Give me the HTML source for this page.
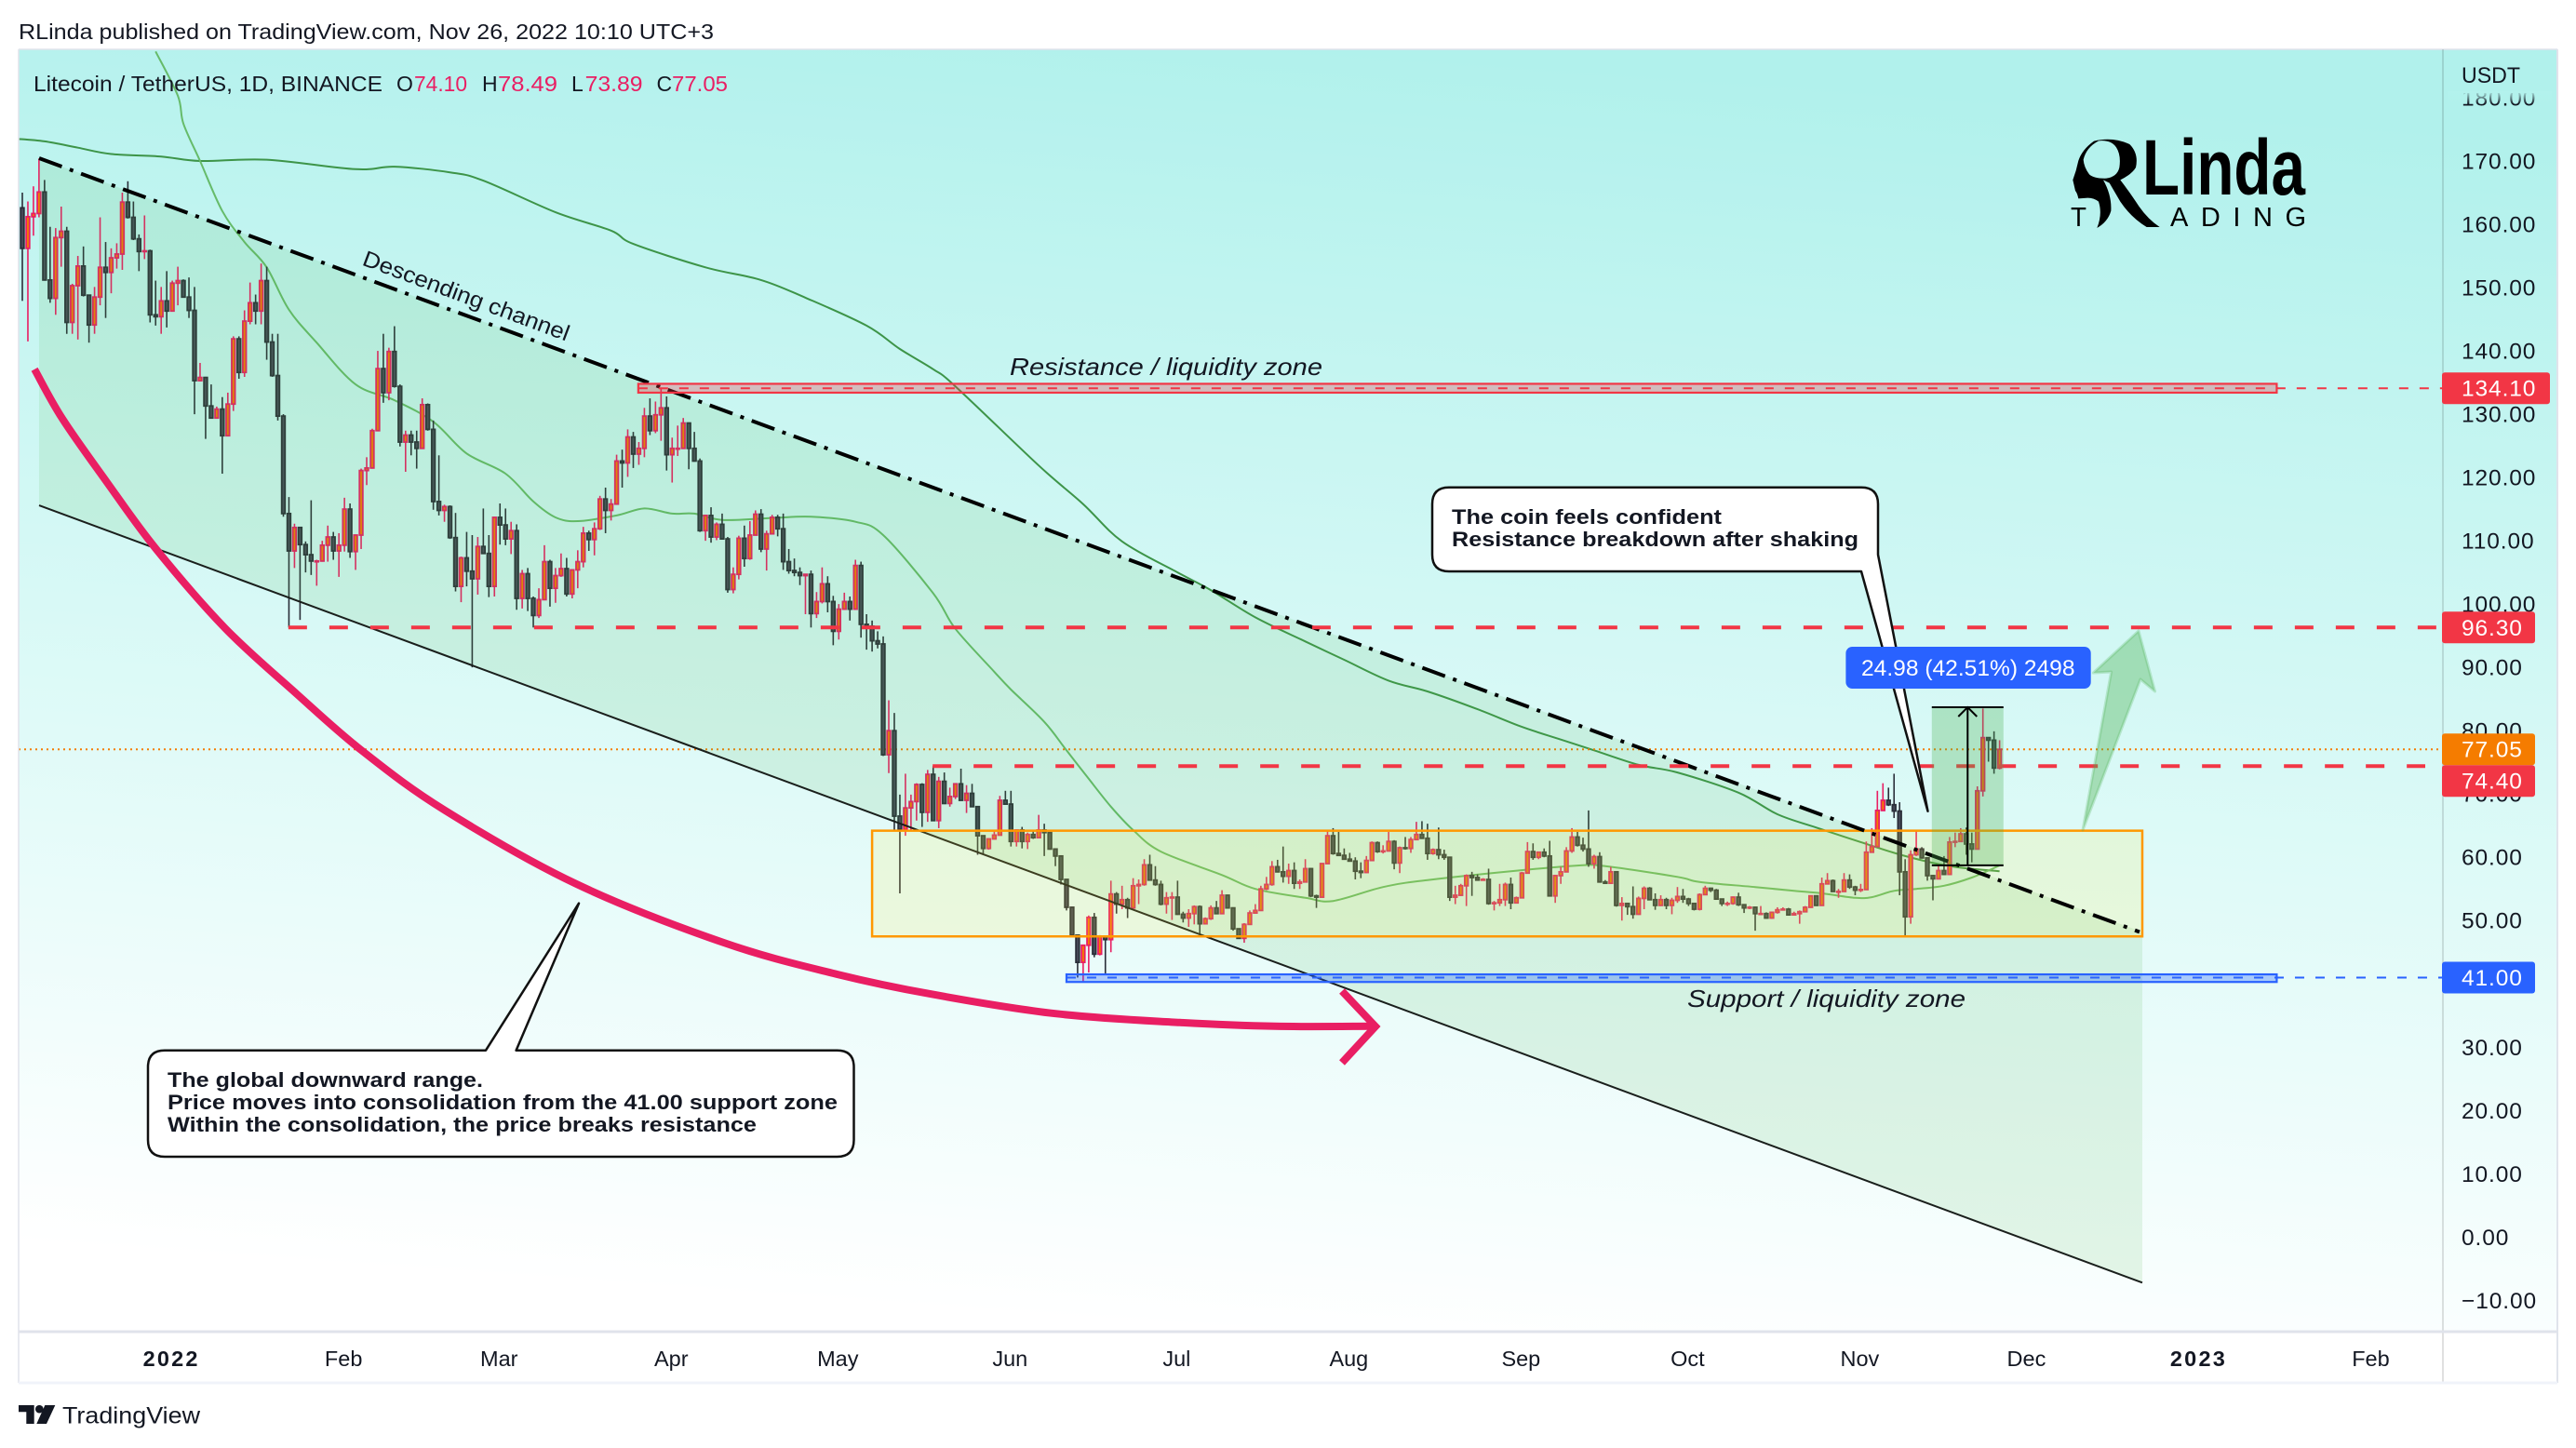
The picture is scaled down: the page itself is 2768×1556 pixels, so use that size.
<!DOCTYPE html>
<html lang="en">
<head>
<meta charset="utf-8">
<title>Litecoin / TetherUS chart</title>
<style>
html,body{margin:0;padding:0;background:#fff;}
svg{display:block;font-family:"Liberation Sans",sans-serif;}
text{fill:#131722;}
</style>
</head>
<body>
<svg id="chart" xmlns="http://www.w3.org/2000/svg" width="2768" height="1556" viewBox="0 0 2768 1556">
  <defs>
    <linearGradient id="bgGrad" gradientUnits="userSpaceOnUse" x1="1430" y1="53" x2="1330" y2="1431">
      <stop offset="0" stop-color="#b1f1ec"/>
      <stop offset="0.5" stop-color="#d8f9f6"/>
      <stop offset="1" stop-color="#ffffff"/>
    </linearGradient>
    <linearGradient id="tickFade" x1="0" y1="0" x2="0" y2="1">
      <stop offset="0" stop-color="#b3f2ed" stop-opacity="1"/>
      <stop offset="1" stop-color="#b3f2ed" stop-opacity="0"/>
    </linearGradient>
    <clipPath id="paneClip"><rect x="20" y="53" width="2605" height="1378"/></clipPath>
    <clipPath id="axisClip"><rect x="2628" y="100" width="120" height="1331"/></clipPath>
  </defs>

  <rect x="0" y="0" width="2768" height="1556" fill="#ffffff"/>
  <text x="20" y="42" font-size="23" textLength="747" lengthAdjust="spacingAndGlyphs">RLinda published on TradingView.com, Nov 26, 2022 10:10 UTC+3</text>

  <rect x="20" y="53" width="2728" height="1378" fill="url(#bgGrad)"/>

  <g id="pane" clip-path="url(#paneClip)">
    <g id="maLayer"></g>
    <line id="lastLine" stroke="#f57c00" stroke-width="2" stroke-dasharray="2 4"/>
    <g id="candles"></g>
    <polygon id="channelFill" fill="rgb(76,175,80)" fill-opacity="0.13"/>
    <line id="channelLower" stroke="#1a1f1c" stroke-width="2"/>
    <rect id="consolidation" fill="rgb(255,235,59)" fill-opacity="0.15" stroke="#ff9800" stroke-width="2.5"/>
    <line id="channelUpper" stroke="#000" stroke-width="4" stroke-dasharray="26 9 4 9"/>
    <rect id="resZone" fill="#f23645" fill-opacity="0.3" stroke="#f23645" stroke-width="2.2"/>
    <line id="resLine" stroke="#f23645" stroke-width="2" stroke-dasharray="10 12"/>
    <rect id="supZone" fill="#2962ff" fill-opacity="0.32" stroke="#2962ff" stroke-width="2.2"/>
    <line id="supLine" stroke="#2962ff" stroke-width="2" stroke-dasharray="10 12"/>
    <line id="level96" stroke="#f23645" stroke-width="4" stroke-dasharray="20 24"/>
    <line id="level74" stroke="#f23645" stroke-width="4" stroke-dasharray="20 24"/>

    <rect id="rangeBox" fill="rgb(76,175,80)" fill-opacity="0.3"/>
    <line id="rangeTop" stroke="#000" stroke-width="2"/>
    <line id="rangeBottom" stroke="#000" stroke-width="2"/>
    <line id="rangeStem" stroke="#000" stroke-width="2"/>
    <polyline id="rangeHead" fill="none" stroke="#000" stroke-width="2"/>

    <path d="M2238 892 L2268.6 722 L2249.4 723 L2298 678 L2315.6 743 L2300 730 Z" fill="#4caf50" fill-opacity="0.38" stroke="#4caf50" stroke-opacity="0.25" stroke-width="3" stroke-linejoin="round"/>

    <path id="downCurve" fill="none" stroke="#e91e63" stroke-width="8" stroke-linejoin="round"/>
    <polyline points="1442,1065 1478,1103 1442,1142" fill="none" stroke="#e91e63" stroke-width="8" stroke-linejoin="miter"/>

    <text transform="translate(501,318) rotate(20.5)" y="8" font-size="24" text-anchor="middle" textLength="235" lengthAdjust="spacingAndGlyphs">Descending channel</text>
    <text x="1085" y="403" font-size="26" font-style="italic" textLength="336" lengthAdjust="spacingAndGlyphs">Resistance / liquidity zone</text>
    <text x="1813" y="1082" font-size="26" font-style="italic" textLength="299" lengthAdjust="spacingAndGlyphs">Support / liquidity zone</text>

    <path d="M177 1128.7 H522 L622 970.7 L554.6 1128.7 H899.5 Q917.5 1128.7 917.5 1146.7 V1225 Q917.5 1243 899.5 1243 H177 Q159 1243 159 1225 V1146.7 Q159 1128.7 177 1128.7 Z" fill="#ffffff" stroke="#111" stroke-width="2.5" stroke-linejoin="round"/>
    <g font-size="22" font-weight="700">
      <text x="180" y="1168" textLength="339" lengthAdjust="spacingAndGlyphs">The global downward range.</text>
      <text x="180" y="1192" textLength="720" lengthAdjust="spacingAndGlyphs">Price moves into consolidation from the 41.00 support zone</text>
      <text x="180" y="1216" textLength="633" lengthAdjust="spacingAndGlyphs">Within the consolidation, the price breaks resistance</text>
    </g>

    <path d="M1557 523.7 H2000 Q2018 523.7 2018 541.7 V596 L2071.5 871.7 L2000 614 H1557 Q1539 614 1539 596 V541.7 Q1539 523.7 1557 523.7 Z" fill="#ffffff" stroke="#111" stroke-width="2.5" stroke-linejoin="round"/>
    <g font-size="22" font-weight="700">
      <text x="1560" y="563" textLength="290" lengthAdjust="spacingAndGlyphs">The coin feels confident</text>
      <text x="1560" y="587" textLength="437" lengthAdjust="spacingAndGlyphs">Resistance breakdown after shaking</text>
    </g>

    <rect x="1983.4" y="695" width="263.3" height="45" rx="7" fill="#2962ff"/>
    <text x="2000" y="726" font-size="24" textLength="229.5" lengthAdjust="spacingAndGlyphs" style="fill:#fff">24.98 (42.51%) 2498</text>

    <g>
      <path transform="translate(2200,130) scale(0.33333)" fill-rule="evenodd" fill="#000" d="M92 160 L100 128 Q112 92 150 65 Q210 50 265 75 Q295 105 285 150 Q272 172 235 190 Q262 225 295 275 Q325 318 362 342 L320 342 Q270 312 235 260 L200 200 L180 190 Q208 240 205 290 Q195 325 160 345 Q178 300 165 260 Q150 248 130 248 L100 250 Q96 232 90 225 L82 190 Z M116 125 Q118 150 135 172 Q150 186 190 185 Q225 180 232 150 Q238 110 222 85 Q205 60 165 64 Q125 85 116 125 Z"/>
      <text x="2302" y="209" font-size="84" font-weight="700" textLength="175" lengthAdjust="spacingAndGlyphs" style="fill:#000">Linda</text>
      <text x="2225" y="243" font-size="29" textLength="17" lengthAdjust="spacingAndGlyphs" style="fill:#000">T</text>
      <text x="2332" y="243" font-size="29" textLength="146" style="fill:#000">ADING</text>
    </g>
  </g>

  <text x="36" y="98" font-size="23" textLength="375" lengthAdjust="spacingAndGlyphs">Litecoin / TetherUS, 1D, BINANCE</text>
  <text x="426" y="98" font-size="23">O</text>
  <text x="445" y="98" font-size="23" textLength="57" lengthAdjust="spacingAndGlyphs" style="fill:#e91e63">74.10</text>
  <text x="518" y="98" font-size="23">H</text>
  <text x="535" y="98" font-size="23" textLength="64" lengthAdjust="spacingAndGlyphs" style="fill:#e91e63">78.49</text>
  <text x="614" y="98" font-size="23">L</text>
  <text x="628.6" y="98" font-size="23" textLength="62" lengthAdjust="spacingAndGlyphs" style="fill:#e91e63">73.89</text>
  <text x="705.5" y="98" font-size="23">C</text>
  <text x="722" y="98" font-size="23" textLength="60" lengthAdjust="spacingAndGlyphs" style="fill:#e91e63">77.05</text>

  <line x1="20" y1="53" x2="2748" y2="53" stroke="#e0e3eb" stroke-width="1.5"/>
  <line x1="20" y1="53" x2="20" y2="1486" stroke="#e0e3eb" stroke-width="1.5"/>
  <line x1="2748" y1="53" x2="2748" y2="1486" stroke="#e0e3eb" stroke-width="2"/>
  <line x1="2625" y1="53" x2="2625" y2="1486" stroke="#000" stroke-opacity="0.12" stroke-width="2"/>
  <line x1="20" y1="1431" x2="2748" y2="1431" stroke="#e0e3eb" stroke-width="3"/>
  <line x1="20" y1="1486" x2="2748" y2="1486" stroke="#f0f3fa" stroke-width="3"/>

  <g id="priceTicksGroup" clip-path="url(#axisClip)" font-size="24.5" letter-spacing="0.9"></g>
  <rect x="2630" y="98" width="112" height="14" fill="url(#tickFade)"/>
  <text x="2645" y="89" font-size="24" textLength="63" lengthAdjust="spacingAndGlyphs">USDT</text>
  <g id="priceTags" font-size="24.5" letter-spacing="0.9"></g>
  <g id="timeTicksGroup" font-size="23.5" text-anchor="middle"></g>

  <g>
    <path d="M20 1510 H36.7 V1530 H28.3 V1517.3 H20 Z" fill="#131722"/>
    <circle cx="42.3" cy="1514.2" r="4.3" fill="#131722"/>
    <path d="M48.3 1510 H59.3 L50 1530 H39.3 Z" fill="#131722"/>
    <text x="67" y="1529.5" font-size="25" textLength="148" lengthAdjust="spacingAndGlyphs">TradingView</text>
  </g>

<script>
// ===== Candle data: one entry per daily bar, starting 5 Dec 2021 =====
const firstOpen = 162.6;
const closes = [
156.2,161.2,161.7,165.1,151.2,148.3,157.9,158.9,144.5,150.3,
153.4,148.8,144.1,148.5,153.2,152.4,154.7,155.3,163.5,161.1,
157.7,155.7,155.8,145.7,145.4,147.9,146.3,150.7,151.1,148.5,
146.4,135.3,135.8,131.3,129.4,130.8,126.6,131.6,141.9,136.6,
144.7,147.6,146.3,151.1,141.4,136.1,129.7,114.3,108.4,112.1,
109.4,107.8,106.8,106.8,109.3,110.6,108.4,109.3,115,108.3,
110.9,121.1,121.5,127.4,137.2,133.4,139.9,134.4,125.6,126.7,
125.6,124.6,131.5,127.6,116.2,114.8,115.4,110.5,102.8,107.3,
105.2,104,109.1,108,102.8,113.7,112.5,110.3,111.6,100.9,
104.8,100.9,98.2,100.7,106.7,102.5,104.5,105.6,101.6,105.4,
106.7,111.2,110.2,111.9,116.6,114.8,115.8,122.6,122.3,126.4,
123.7,124.6,129.7,127.4,129.9,131,123.6,124.6,124.6,128.6,
124.6,122.6,111.6,114,110.6,112.6,110.3,102.3,104.7,110.4,
107.2,110.9,114.2,108.7,111.1,113.7,111.9,106.7,105.3,105,
104.5,104.7,98.5,100.4,103.2,100.4,95.7,99.2,100.4,99.2,
106.1,96.8,96.5,94.2,93.7,76.2,80,66.5,64.4,67.8,
68.8,71.5,67.1,73.1,65.8,72,68.5,69.6,71.6,69,
70.1,68,63.4,61.4,62.9,63.5,69,68.4,62.5,64.3,
62.5,63.6,63.1,64.3,63.9,61.3,60.2,56.5,52.1,47.7,
43.4,46.1,50.5,44.7,47.5,47,54.2,52.6,53.3,52,
55.5,55.7,58.8,56.4,55.7,52.6,53.6,53.7,51,50.4,
51.1,52.2,49.5,50.3,52,51.1,54,52,48.7,47.2,
49.4,51.2,51.6,55,55.7,58.5,57.7,57,57.9,55.9,
56.1,58.2,53.9,53.7,59,63.4,60.6,60.3,59.7,59.4,
57.8,57.6,59.5,62.3,60.9,61,62.5,59.1,61.5,61.4,
62.8,63.6,63,60.6,61.2,60.4,60,53.7,54,55.5,
57.1,56.8,56.4,56.5,52.7,52.8,53.3,55.7,52.8,53.6,
57.5,60.9,60,60.8,60.2,53.9,57.1,57.7,61,63.2,
61.9,61.3,59,60.1,56.1,55.9,57.7,52.4,52.7,52.2,
51,53.5,55.1,53.3,52.4,53.3,52.4,53.2,53.8,53.4,
52.7,51.8,54.1,55.1,54.8,53.4,52.7,52.7,53.7,52.5,
52,52.1,51.1,51.1,50.4,51.3,51.7,51.8,50.9,51.1,
51.4,52.1,53.9,52.4,55.8,56.3,54.6,54.6,56.4,55.3,
54.8,54.9,60.8,61.7,67.4,69,68.3,67.3,57.7,50.6,
60.4,61.3,59.9,57.1,56.6,57.9,57.3,62.4,62.5,63.7,
62.1,61.3,70.5,78.9,78.5,74.1,77.05
];
const highs = [
165,163.6,166,170.4,167,159.6,159.4,162.8,159.6,150.6,
155,156.5,148.9,150.1,161.1,157.2,156.2,157,165,166.8,
163.6,158.4,161.4,156,151.1,150.1,152.6,151.1,153.3,151.3,
151.6,150.1,138.1,135.9,134.7,131.2,132.7,133.4,142.3,142.3,
146.4,150.8,148.9,153.8,153.3,142.7,142.7,130,116.9,112.7,
112.2,109.9,116.4,107,110,112.4,111.4,111.2,116.8,115.9,
111,121.4,123.2,127.7,140,142.7,140.5,143.9,134.7,127.4,
127.4,127.4,132.5,131.7,129,123.5,115.7,115.6,114.4,107.5,
111.4,110.9,110.6,115.1,110.9,113.8,115.9,115.1,113,112.6,
105.4,105.7,101.2,102.5,109.3,107,105.7,108,107.3,105.5,
108.5,112.2,111.6,112.9,117.1,118.4,116.6,123.6,124.4,127.6,
127.2,125.6,131,132.5,132,134.2,132.8,126.3,128.2,129.4,
128.7,127.2,123,114.1,115.3,112.9,114.3,110.6,105.8,110.8,
112.4,113.1,114.8,115,111.6,114.1,114.1,114.3,108.7,107.2,
105.8,104.8,105.3,101.9,105.8,104.4,101.3,100,101.8,101.2,
107,106.7,98.4,97.4,95.7,94.9,84.8,82.8,69.9,73.2,
69.9,71.7,71.7,73.8,74.4,72.7,73.4,71,71.7,74,
71.4,71.6,68.1,63.4,63,64.2,69.7,70.5,70.5,64.4,
64.8,63.9,64.1,66.7,65.3,63.9,61.4,60.2,56.5,52.1,
47.8,46.2,50.8,51.2,47.7,47.5,56.3,54.5,55.5,53.6,
56.7,56.5,59.7,60.4,58.6,56.3,54.5,54.5,56.3,51.4,
51.8,52.4,52.4,50.5,52.4,53.1,54.8,54.1,52.1,48.7,
49.6,51.6,52.6,55.5,56.9,59.4,59.6,61.7,59,59.2,
56.5,59.7,58.3,54.1,59.1,64.2,64.6,64,61.4,60.7,
60,59.2,60.2,62.5,62.5,61.9,64,62.7,61.7,63.2,
63.2,65.6,65.7,65.3,61.4,64.7,61.2,60.1,55.5,55.8,
57.3,57.7,57.3,56.7,58.2,53.1,55.8,56,56.8,53.8,
57.7,62.4,62.2,60.9,61.4,62.6,57.2,58.5,61.6,64.6,
64,63.1,67.4,60.4,60.8,56.4,58.5,57.8,53.7,52.8,
55.4,53.8,55.4,55.3,54.3,54,53.6,53.6,55.3,55,
53.6,52.8,54.3,55.5,55.2,55,53.4,53,53.8,54.4,
52.6,52.3,52.1,52.3,51.3,51.4,52.1,52.1,52,51.4,
51.6,52.3,54,54,56.8,57.5,56.5,55,57.5,57.3,
55.5,55.8,62.5,64.6,70.5,71.7,71,73.2,68.7,59.7,
61.1,64.3,61.6,59.9,57.2,58.9,60.2,63.2,63.9,64.6,
64.7,63.9,71.2,83.5,79,79.9,78.49
];
const lows = [
147.9,141.5,158.2,161.1,151.1,147.6,145.7,153.3,142.7,142.7,
141.8,148.6,141.3,142.7,147.2,145.2,149.1,153,152.8,160.9,
157.5,152.6,154.5,144.5,144,142.7,143.7,146.2,147.2,148.4,
145.2,130,135.2,126.1,129.3,129.3,120.6,126.6,130.5,135.6,
135.9,144.2,144.2,144.2,138.6,135.9,129,113.8,96.3,105.7,
97.5,105,104.6,102.9,106.7,106.7,107,104.3,108.3,107.3,
105.4,108.7,118.8,121.4,127.5,131.8,132.2,134.2,124.9,120.9,
123.5,121.4,124.6,127.4,114.9,114,113,110.3,102,100.3,
102.8,90,101.5,107.9,101.1,101.2,109.4,109.3,107.9,99.1,
99.3,98.9,96.3,97.8,100.7,99.6,100.2,104.3,101.2,100.9,
102.5,105.8,108.4,107.7,111.7,111.2,113.2,115.9,118.4,120.1,
121.5,122,123.2,126.7,127,125.8,121.1,119.2,123.4,124.6,
121.3,122.5,111.4,110,109.7,110.1,110.2,101.8,101.7,103.9,
105.9,107,110.9,108.2,105.3,111.1,110.7,105.4,104.8,104.4,
103,98.4,96.3,97.8,100.1,98.7,93.5,94.4,99.1,97.4,
99.1,94.7,92.8,92.5,93,76,73.3,64.3,54.3,63.4,
64.3,65.8,64.8,65.6,65.7,64.6,68.4,68,69.2,68.9,
67,67.9,60.4,60.6,61.2,62.8,63.5,68.3,61.7,61.7,
61.4,61.3,62.9,63,60.2,61.2,58.6,55.7,51.6,47.4,
41,40.3,41.8,44.2,44.5,41.5,45,51.1,51.8,50.4,
51.8,52.6,55.5,56.3,55.5,52.4,51.1,50.1,50.9,49.7,
49,49.4,47.8,49.4,50.1,51,51.1,51.9,48.4,47.1,
46.5,49.4,51.1,51.5,54.8,55.5,57.6,56,55.8,55,
55,56,53.7,52,53.6,59,60.4,60.2,59.6,59.3,
56.5,56.7,57.5,59.4,60.7,60.6,60.9,58.1,57.5,61.2,
60.7,62.7,62.9,59.6,60.4,59.7,59.6,53.1,52.6,53.9,
52.3,53.9,56.3,56.3,52.5,51.6,52.3,52.3,51.8,52.8,
53.6,57.5,59.6,59.7,60,53.8,52.8,55.8,57.7,60.7,
61.7,60.9,58.5,58.2,56,55.8,55.8,52.2,50,50.9,
50.3,50.9,51.8,53.2,51.7,52.3,51.8,51,52.8,52.8,
52.3,51.6,51.6,54.1,54.5,53.3,52.3,52.3,52.5,52.3,
51.2,51.8,48.4,50.9,50.3,50.3,51.1,51.6,50.8,50.9,
49.5,51.4,52,52.3,52.4,55.7,54.5,53.6,54.7,55,
54,54.5,54.9,60.8,61.6,67.3,68.1,66.2,54,47.5,
49.5,60.2,59.8,56.3,53.2,56.5,57.2,57.2,61.6,62.5,
60.4,59.2,61.2,69.6,75.1,73.2,73.89
];

// ===== Moving averages (bar number, price) =====
const ma200Bars = [-1,4,10,16,25,32,44,60,67,77,83,96,106,110,123,133,141,152,158,164,168,183,191,198,208,214,222,231,238,246,253,262,270,277,283,291,298,309,316,323,331,339,347,356];
const ma200Values = [173.5,173.1,172.1,171.1,170.7,170,170.2,168.7,169.1,168.2,166.9,161.9,159,156.9,153.2,151.2,148.4,144,140.3,137.1,134.4,121.9,115.8,109.9,105,102.2,97.9,94.1,91.2,87.9,86.2,83.4,80.6,78.6,76.9,74.6,73.4,70.2,66.8,64.7,62.4,60.2,58.6,57.8];
const ma50Bars = [24,28,29,32,36,40,44,48,53,60,67,74,80,87,92,96,100,107,112,117,121,126,135,142,150,155,164,168,175,178,184,188,192,196,200,205,216,222,231,236,245,253,268,280,285,298,302,312,319,324,330,333,337,341,346,351,356];
const ma50Values = [187.3,180.3,175.9,170,162.1,157.2,153.2,146.5,141.3,134.7,132.2,128.8,123.8,120.6,116.2,113.7,113.1,114,115.1,114.3,114.3,113.3,113.6,113.8,113,110.9,101.7,96.1,89.3,86.5,81.4,76.9,72.4,68,64.3,60.9,57.2,55,53.6,53.1,55.3,56.4,57.8,58.7,58.6,56.9,56.1,55.3,54.7,54.3,53.6,53.7,54.7,55,55.5,56.8,58.7];

// ===== Axes =====
const priceTicks = [180,170,160,150,140,130,120,110,100,90,80,70,60,50,40,30,20,10,0,-10];
const timeLabels = ["2022","Feb","Mar","Apr","May","Jun","Jul","Aug","Sep","Oct","Nov","Dec","2023","Feb"];
const timeLabelDays = [0,31,59,90,120,151,181,212,243,273,304,334,365,396];
const timeLabelBold = [true,false,false,false,false,false,false,false,false,false,false,false,true,false];

// ===== Levels and drawing anchors (prices and bar numbers) =====
const lastPrice = 77.05;
const tagValues = [134.10,96.30,77.05,74.40,41.00];
const tagColors = ["#f23645","#f23645","#f57c00","#f23645","#2962ff"];
const channelUpperBars = [3.02,381.2];
const channelUpperPrices = [170.44,48.2];
const channelLowerBars = [3.02,381.7];
const channelLowerPrices = [115.6,-7.2];
const consolidationBars = [153,381.7];
const consolidationPrices = [64.2,47.5];
const resistancePrices = [134.8,133.4];
const supportPrices = [41.5,40.3];
const zoneBars = [110.9,405.9];
const supportBars = [188,405.9];
const level96Start = 47.9;
const level74Start = 163.9;
const rangeBars = [343.8,356.7];
const rangePrices = [83.7,58.72];
const curveBars = [2.2,7.2,15.2,24,36.5,49.4,61.2,76.1,99.7,126.3,146.8,163.5,186,208.4,225.5,243];
const curvePrices = [137.1,129.3,119.3,108.8,96.2,85.8,76.8,67.4,55.8,46.5,41.5,38.4,35.3,33.9,33.3,33.3];

const X0 = 24, STEP = 5.968, FIRST_DAY = -27, Y170 = 173, PX_PER_UNIT = 6.802, AXIS_X = 2625;
function xBar(i){ return X0 + i * STEP; }
function xDay(d){ return xBar(d - FIRST_DAY); }
function yPrice(p){ return Y170 + (170 - p) * PX_PER_UNIT; }

const NS = "http://www.w3.org/2000/svg";
function mk(tag, parent){
  const el = document.createElementNS(NS, tag);
  parent.appendChild(el);
  return el;
}
function setLine(id, x1, y1, x2, y2){
  const l = document.getElementById(id);
  l.setAttribute("x1", x1); l.setAttribute("y1", y1);
  l.setAttribute("x2", x2); l.setAttribute("y2", y2);
}
function setRect(id, x1, x2, y1, y2){
  const r = document.getElementById(id);
  r.setAttribute("x", x1); r.setAttribute("y", y1);
  r.setAttribute("width", x2 - x1); r.setAttribute("height", y2 - y1);
}
// smooth curve through the given points (Catmull-Rom to Bezier)
function smoothPath(bars, vals){
  const p = bars.map((b, i) => [xBar(b), yPrice(vals[i])]);
  let d = "M" + p[0][0].toFixed(1) + " " + p[0][1].toFixed(1);
  for (let i = 0; i < p.length - 1; i++) {
    const a = p[Math.max(i - 1, 0)], b = p[i], c = p[i + 1], e = p[Math.min(i + 2, p.length - 1)];
    const c1x = b[0] + (c[0] - a[0]) / 6, c1y = b[1] + (c[1] - a[1]) / 6;
    const c2x = c[0] - (e[0] - b[0]) / 6, c2y = c[1] - (e[1] - b[1]) / 6;
    d += " C" + c1x.toFixed(1) + " " + c1y.toFixed(1) + " " + c2x.toFixed(1) + " " + c2y.toFixed(1) + " " + c[0].toFixed(1) + " " + c[1].toFixed(1);
  }
  return d;
}

// moving averages
const maLayer = document.getElementById("maLayer");
function drawMA(bars, vals, color){
  const pl = mk("path", maLayer);
  pl.setAttribute("d", smoothPath(bars, vals));
  pl.setAttribute("fill", "none");
  pl.setAttribute("stroke", color);
  pl.setAttribute("stroke-width", "2");
  pl.setAttribute("stroke-linejoin", "round");
  return pl;
}
const ma200Line = drawMA(ma200Bars, ma200Values, "#3d9448");


const ma50Line = drawMA(ma50Bars, ma50Values, "#66bb6a");



document.getElementById("downCurve").setAttribute("d", smoothPath(curveBars, curvePrices));

// candles
const candleLayer = document.getElementById("candles");
closes.forEach((c, i) => {
  const o = i === 0 ? firstOpen : closes[i - 1];
  const up = c >= o;
  const x = xBar(i);
  const wick = mk("line", candleLayer);
  
  
  wick.setAttribute("x1", x); wick.setAttribute("x2", x);
  wick.setAttribute("y1", yPrice(Math.max(highs[i], o, c)));
  wick.setAttribute("y2", yPrice(Math.min(lows[i], o, c)));
  wick.setAttribute("stroke", up ? "#e91e63" : "#2a2e39");
  wick.setAttribute("stroke-width", "1.6");
  const body = mk("rect", candleLayer);
  
  
  const top = yPrice(Math.max(o, c));
  const h = Math.max(yPrice(Math.min(o, c)) - top, 0.8);
  body.setAttribute("x", x - 1.8);
  body.setAttribute("y", top);
  body.setAttribute("width", 3.6);
  body.setAttribute("height", h);
  body.setAttribute("fill", up ? "#f57c00" : "#474b59");
  body.setAttribute("stroke", up ? "#e91e63" : "#2a2e39");
  body.setAttribute("stroke-width", "1.8");
});

// levels and drawings
setLine("lastLine", 20, yPrice(lastPrice), AXIS_X, yPrice(lastPrice));
setLine("channelUpper", xBar(channelUpperBars[0]), yPrice(channelUpperPrices[0]), xBar(channelUpperBars[1]), yPrice(channelUpperPrices[1]));
setLine("channelLower", xBar(channelLowerBars[0]), yPrice(channelLowerPrices[0]), xBar(channelLowerBars[1]), yPrice(channelLowerPrices[1]));
document.getElementById("channelFill").setAttribute("points", [
  [xBar(channelUpperBars[0]), yPrice(channelUpperPrices[0])],
  [xBar(channelLowerBars[1]), yPrice(channelUpperPrices[1])],
  [xBar(channelLowerBars[1]), yPrice(channelLowerPrices[1])],
  [xBar(channelLowerBars[0]), yPrice(channelLowerPrices[0])]
].map(p => p[0].toFixed(1) + "," + p[1].toFixed(1)).join(" "));
setRect("consolidation", xBar(consolidationBars[0]), xBar(consolidationBars[1]), yPrice(consolidationPrices[0]), yPrice(consolidationPrices[1]));
setRect("resZone", xBar(zoneBars[0]), xBar(zoneBars[1]), yPrice(resistancePrices[0]), yPrice(resistancePrices[1]));
setRect("supZone", xBar(supportBars[0]), xBar(supportBars[1]), yPrice(supportPrices[0]), yPrice(supportPrices[1]));
setLine("resLine", xBar(zoneBars[0]), yPrice(tagValues[0]), AXIS_X, yPrice(tagValues[0]));
setLine("supLine", xBar(supportBars[0]), yPrice(tagValues[4]), AXIS_X, yPrice(tagValues[4]));
setLine("level96", xBar(level96Start), yPrice(tagValues[1]), AXIS_X, yPrice(tagValues[1]));
setLine("level74", xBar(level74Start), yPrice(tagValues[3]), AXIS_X - 19, yPrice(tagValues[3]));

const rl = xBar(rangeBars[0]), rr = xBar(rangeBars[1]), rt = yPrice(rangePrices[0]), rb = yPrice(rangePrices[1]), rm = (rl + rr) / 2;
setRect("rangeBox", rl, rr, rt, rb);
setLine("rangeTop", rl, rt, rr, rt);
setLine("rangeBottom", rl, rb, rr, rb);
setLine("rangeStem", rm, rb, rm, rt);
document.getElementById("rangeHead").setAttribute("points", (rm - 10) + "," + (rt + 10) + " " + rm + "," + rt + " " + (rm + 10) + "," + (rt + 10));

// price axis
const tickGroup = document.getElementById("priceTicksGroup");
priceTicks.forEach(p => {
  const t = mk("text", tickGroup);
  
  
  t.setAttribute("x", 2645);
  t.setAttribute("y", yPrice(p) + 8.5);
  t.textContent = (p < 0 ? "\u2212" + Math.abs(p).toFixed(2) : p.toFixed(2));
});

// price tags: when two tags would overlap, the lower one is pushed below its neighbour
const tagGroup = document.getElementById("priceTags");
let prevBottom = -Infinity;
tagValues.forEach((v, i) => {
  const y = Math.max(yPrice(v), prevBottom + 17);
  prevBottom = y + 17;
  const label = v.toFixed(2);
  const r = mk("rect", tagGroup);
  
  
  r.setAttribute("x", 2624);
  r.setAttribute("y", y - 17);
  r.setAttribute("width", label.length > 5 ? 116 : 100);
  r.setAttribute("height", 34);
  r.setAttribute("rx", 3);
  r.setAttribute("fill", tagColors[i]);
  const t = mk("text", tagGroup);
  
  
  t.setAttribute("x", 2645);
  t.setAttribute("y", y + 8.5);
  t.setAttribute("style", "fill:#fff");
  t.textContent = label;
});

// time axis
const timeGroup = document.getElementById("timeTicksGroup");
timeLabels.forEach((s, i) => {
  const t = mk("text", timeGroup);
  
  
  t.setAttribute("x", xDay(timeLabelDays[i]) - 1);
  t.setAttribute("y", 1468);
  if (timeLabelBold[i]) {
    t.setAttribute("font-weight", "700");
    t.setAttribute("letter-spacing", "2.2");
  }
  t.textContent = s;
});
</script>
</svg>
</body>
</html>
